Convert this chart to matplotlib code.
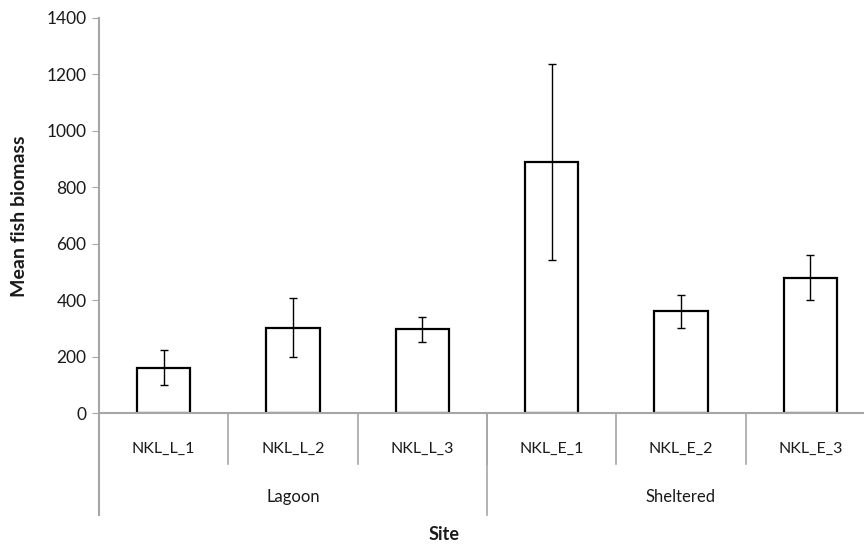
import matplotlib
matplotlib.use('Agg')
import matplotlib.pyplot as plt
import numpy as np

# data
sites = ['NKL_L_1', 'NKL_L_2', 'NKL_L_3', 'NKL_E_1', 'NKL_E_2', 'NKL_E_3']
habitats = ['Lagoon', 'Sheltered']
sites_per_habitat = [3, 3]
mean_biomass = [160, 303, 296, 891, 360, 479]
err_biomass = [62, 104, 45, 347, 60, 80]

plt.rcParams['font.family'] = ['Lato', 'DejaVu Sans']
GREY = '#a6a6a6'
TXT = '#1a1a1a'

fig = plt.figure(figsize=(8.64, 5.45), dpi=100)
ax = fig.add_axes([99 / 864, 1 - 413 / 545, 1 - 99 / 864, 395 / 545])

x = np.arange(len(sites))
ax.bar(x, mean_biomass, width=0.41, color='white', edgecolor='black',
       linewidth=1.6, zorder=2)
ax.errorbar(x, mean_biomass, yerr=err_biomass, fmt='none', ecolor='black',
            elinewidth=1.0, capsize=2.8, capthick=1.0, zorder=3)

ax.set_ylim(0, 1400)
ax.set_xlim(-0.5, 5.415)
ax.set_yticks(np.arange(0, 1401, 200))
ax.tick_params(axis='y', direction='out', length=5, color=GREY,
               labelsize=12.5, labelcolor=TXT, pad=4)
ax.set_xticks([])
for s in ['top', 'right']:
    ax.spines[s].set_visible(False)
for s in ['left', 'bottom']:
    ax.spines[s].set_color(GREY)
    ax.spines[s].set_linewidth(1.5)
ax.spines['bottom'].set_zorder(4)

# multi-level category axis
trans = ax.get_xaxis_transform()
for i, name in enumerate(sites):
    ax.text(i, -0.091, name, transform=trans, ha='center', va='center',
            fontsize=11.5, color=TXT)
for b in x[1:] - 0.5:
    ax.plot([b, b], [0, -0.129], transform=trans, color=GREY, lw=1.2,
            clip_on=False)

start = 0
for hab, n in zip(habitats, sites_per_habitat):
    ax.text(start + (n - 1) / 2, -0.213, hab, transform=trans, ha='center',
            va='center', fontsize=12, color=TXT)
    start += n
    ax.plot([start - 0.5, start - 0.5], [0, -0.258], transform=trans,
            color=GREY, lw=1.2, clip_on=False)
ax.plot([-0.5, -0.5], [0, -0.258], transform=trans, color=GREY, lw=1.5,
        clip_on=False)

fig.text(444 / 864, 1 - 535 / 545, 'Site', ha='center', va='center',
         fontsize=13, fontweight='bold', color=TXT)
fig.text(20 / 864, 1 - 216 / 545, 'Mean fish biomass', ha='center',
         va='center', rotation=90, fontsize=14, fontweight='bold', color=TXT)

fig.savefig('out.png', dpi=100)
